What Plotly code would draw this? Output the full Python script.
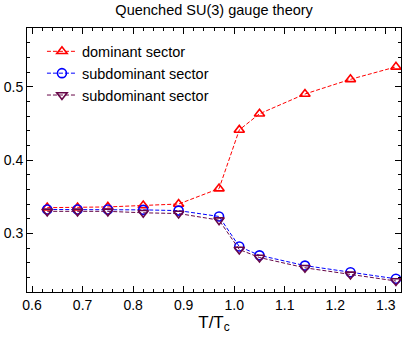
import plotly.graph_objects as go

t_over_tc = [0.63, 0.69, 0.75, 0.82, 0.89, 0.97, 1.01, 1.05, 1.14, 1.23, 1.32]
dominant = [0.335, 0.335, 0.336, 0.338, 0.340, 0.361, 0.441, 0.463, 0.490, 0.510, 0.527]
subdom1 = [0.3325, 0.3325, 0.3325, 0.332, 0.331, 0.323, 0.282, 0.270, 0.256, 0.247, 0.238]
subdom2 = [0.330, 0.330, 0.330, 0.328, 0.327, 0.318, 0.278, 0.267, 0.253, 0.244, 0.235]

series = [
    ("dominant sector", dominant, "#ff0000", "triangle-up-open"),
    ("subdominant sector", subdom1, "#0000ff", "circle-open"),
    ("subdominant sector", subdom2, "#670748", "triangle-down-open"),
]

FONT = "Liberation Sans, Arial, sans-serif"

fig = go.Figure()
for i, (name, vals, col, sym) in enumerate(series):
    fig.add_trace(go.Scatter(
        x=t_over_tc, y=vals, name=name, mode="lines+markers",
        line=dict(color=col, width=1, dash="4px,2px"),
        marker=dict(symbol=sym, size=9, color=col, line=dict(color=col, width=1.6)),
    ))

axis_common = dict(
    showline=True, linecolor="black", linewidth=1, mirror="allticks",
    ticks="inside", ticklen=6, tickcolor="black", showgrid=False, zeroline=False,
    tickfont=dict(size=14, color="black", family=FONT),
)
fig.update_xaxes(range=[0.59, 1.33], dtick=0.1, tickformat=".1f",
                 minor=dict(ticks="inside", ticklen=3, dtick=0.02, tick0=0.6, tickcolor="black"),
                 title=dict(text="T/T<sub>c</sub>", font=dict(size=17, color="black", family=FONT), standoff=2),
                 **axis_common)
fig.update_yaxes(range=[0.22, 0.58], dtick=0.1, tickformat=".1f",
                 minor=dict(ticks="inside", ticklen=3, dtick=0.02, tick0=0.3, tickcolor="black"),
                 **axis_common)
fig.update_layout(
    width=404, height=338,
    margin=dict(l=27, r=3, t=28, b=46),
    paper_bgcolor="white", plot_bgcolor="white",
    title=dict(text="Quenched SU(3) gauge theory", x=0.53, xanchor="center", y=0.970, yanchor="middle",
               font=dict(size=14.5, color="black", family=FONT)),
    legend=dict(x=0.04, y=0.972, xanchor="left", yanchor="top", bgcolor="rgba(0,0,0,0)",
                font=dict(size=14.5, color="black", family=FONT),
                itemwidth=30),
    showlegend=True,
)
fig.write_html("out.html", config={"displayModeBar": False},
               post_script="document.body.style.margin='0';document.body.style.overflow='hidden';")
